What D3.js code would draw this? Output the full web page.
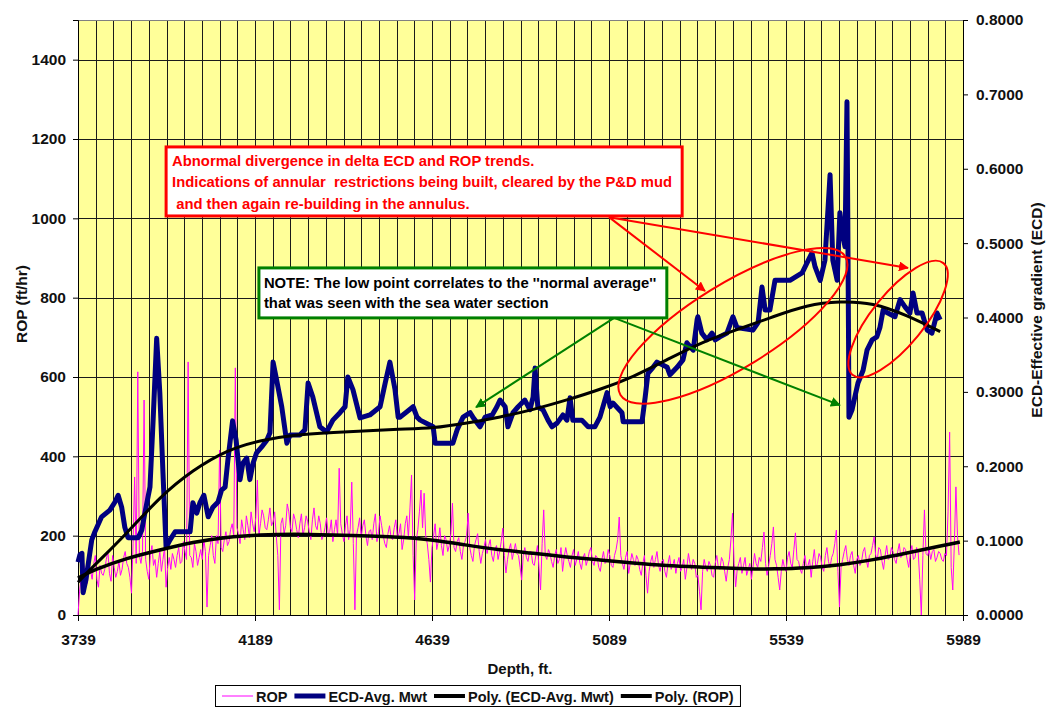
<!DOCTYPE html>
<html><head><meta charset="utf-8">
<script src="https://cdn.jsdelivr.net/npm/d3@7"></script>
<style>body{margin:0;background:#fff;} text{font-family:Arial,"Liberation Sans",sans-serif;}</style>
</head><body><svg id="c" width="1047" height="708"></svg>
<script>
// ---------- data ----------
const depthTicks = [3739, 4189, 4639, 5089, 5539, 5989];
const ropTicks = [0, 200, 400, 600, 800, 1000, 1200, 1400];
const ecdTicks = [0, 0.1, 0.2, 0.3, 0.4, 0.5, 0.6, 0.7, 0.8];

// ROP (ft/hr), one reading every 4 ft starting at 3739 ft
const ropStart = 3739, ropStep = 4;
const ropValues = [
  0,60,95,140,120,100,80,135,110,90,130,150,90,70,125,105,100,115,140,160,
  105,85,150,120,95,110,135,100,115,145,160,130,120,95,55,180,348,130,613,150,
  130,160,542,140,110,90,150,175,125,140,95,130,160,110,140,170,70,120,145,115,
  155,140,120,150,170,130,135,185,160,140,638,150,145,120,180,160,125,145,165,140,
  190,160,20,150,175,200,150,130,200,180,416,170,160,190,210,175,185,215,230,200,
  623,220,205,180,240,215,190,250,225,195,260,230,210,245,340,200,230,265,250,220,
  215,240,270,225,235,260,200,150,13,230,245,205,225,280,260,220,210,255,240,215,
  195,230,255,200,220,250,235,210,190,240,270,225,215,250,230,190,200,220,245,205,
  210,240,185,215,240,200,370,230,205,185,225,250,190,215,335,180,13,200,220,245,
  195,225,240,200,175,210,215,190,230,255,185,210,250,225,200,180,170,205,225,195,
  190,220,240,195,205,230,165,190,230,250,195,270,353,150,38,190,215,260,315,220,
  307,200,180,140,83,170,200,230,165,185,220,175,150,200,190,160,175,205,282,170,
  160,185,195,160,140,175,185,200,257,170,150,135,175,190,205,160,130,155,170,190,
  155,175,190,150,135,165,175,140,160,185,219,150,106,140,165,180,140,160,180,155,
  150,120,88,150,170,145,135,160,160,130,125,150,175,120,63,180,265,150,140,165,
  155,135,120,150,165,130,140,170,110,145,170,150,135,120,150,165,125,140,160,130,
  115,145,155,125,140,160,170,135,125,150,145,120,110,140,160,130,135,165,150,125,
  120,150,165,190,247,150,130,115,145,160,105,130,155,140,125,150,140,115,100,130,
  150,100,55,110,135,150,120,140,160,125,110,135,140,110,95,130,150,115,125,140,
  105,130,145,110,120,140,90,120,155,130,115,140,130,95,100,60,13,110,140,120,
  110,135,125,100,95,130,150,120,115,145,135,110,85,120,140,190,257,130,71,115,
  130,145,105,125,145,100,115,130,90,120,155,130,120,145,135,170,209,130,100,125,
  150,180,222,140,125,95,63,110,140,120,110,145,160,130,120,165,207,140,135,115,
  105,130,150,120,125,140,95,135,165,120,130,155,145,120,110,150,170,135,120,145,
  155,180,214,110,20,120,140,160,175,140,125,150,160,125,105,140,150,125,135,160,
  170,140,120,150,155,175,197,150,140,170,165,135,115,150,175,140,145,170,160,140,
  130,160,180,145,150,170,165,140,120,155,175,140,145,170,160,90,0,150,265,155,
  150,165,140,160,165,135,145,160,155,140,135,155,150,260,461,120,63,180,323,200,151
];

// ECD-Avg. Mwt (right axis)
const ecdDepth = [3739,3744,3749,3752,3759,3774,3782,3799,3820,3833,3841,3850,3858,3866,3892,3901,3909,3922,3930,3939,3947,3955,3963,3973,3986,4024,4031,4041,4049,4059,4070,4082,4095,4104,4113,4120,4132,4141,4151,4158,4168,4176,4184,4193,4206,4219,4227,4235,4244,4257,4270,4278,4303,4316,4324,4336,4354,4371,4387,4405,4418,4425,4438,4456,4481,4507,4520,4532,4545,4553,4558,4591,4601,4609,4642,4647,4692,4703,4718,4736,4743,4761,4774,4792,4804,4812,4825,4832,4845,4858,4875,4888,4896,4901,4908,4921,4934,4944,4957,4972,4982,4990,4997,5020,5036,5053,5066,5084,5092,5099,5122,5125,5173,5181,5188,5201,5211,5237,5244,5262,5277,5287,5303,5313,5315,5325,5338,5351,5359,5371,5389,5404,5414,5422,5455,5468,5478,5486,5498,5511,5549,5580,5605,5613,5626,5638,5651,5658,5669,5676,5681,5689,5694,5696,5698,5699,5707,5714,5722,5735,5745,5758,5770,5778,5786,5798,5816,5829,5842,5854,5862,5872,5885,5898,5910,5923,5931];
const ecdValues = [0.071,0.081,0.083,0.030,0.047,0.101,0.112,0.132,0.141,0.152,0.161,0.145,0.118,0.104,0.104,0.114,0.137,0.172,0.262,0.372,0.299,0.191,0.091,0.101,0.112,0.112,0.151,0.137,0.151,0.161,0.132,0.145,0.152,0.168,0.172,0.208,0.261,0.235,0.182,0.204,0.211,0.182,0.204,0.218,0.226,0.235,0.245,0.340,0.316,0.280,0.231,0.242,0.242,0.249,0.312,0.293,0.253,0.246,0.262,0.272,0.280,0.320,0.303,0.265,0.269,0.280,0.312,0.340,0.303,0.266,0.266,0.280,0.266,0.262,0.253,0.231,0.231,0.249,0.266,0.272,0.266,0.253,0.266,0.269,0.280,0.289,0.280,0.253,0.272,0.280,0.289,0.276,0.293,0.332,0.280,0.276,0.262,0.253,0.258,0.269,0.262,0.292,0.262,0.262,0.253,0.253,0.266,0.299,0.280,0.285,0.272,0.260,0.260,0.293,0.325,0.333,0.340,0.333,0.323,0.333,0.343,0.366,0.356,0.397,0.401,0.379,0.370,0.379,0.370,0.374,0.379,0.401,0.387,0.386,0.383,0.393,0.441,0.410,0.410,0.450,0.450,0.460,0.487,0.468,0.450,0.477,0.592,0.477,0.450,0.541,0.518,0.495,0.690,0.541,0.370,0.266,0.276,0.293,0.312,0.329,0.356,0.370,0.374,0.387,0.410,0.406,0.401,0.424,0.414,0.406,0.433,0.406,0.406,0.383,0.379,0.406,0.397];

// Poly. (ECD-Avg. Mwt) trend
const ecdTrendDepth = [3739,3777,3864,3947,4031,4118,4202,4286,4372,4558,4642,4728,4812,4896,4982,5066,5150,5236,5320,5422,5506,5592,5676,5760,5847,5931];
const ecdTrendValues = [0.044,0.065,0.110,0.159,0.195,0.222,0.235,0.242,0.245,0.250,0.251,0.258,0.266,0.276,0.289,0.303,0.320,0.343,0.366,0.385,0.401,0.417,0.422,0.420,0.403,0.381];

// Poly. (ROP) trend
const ropTrendDepth = [3739,3777,3864,3947,4031,4118,4202,4286,4372,4558,4642,4728,4812,4896,4982,5066,5150,5236,5320,5447,5506,5592,5676,5760,5847,5931,5981];
const ropTrendValues = [93,113,144,164,184,197,202,204,202,197,189,176,164,156,146,139,131,124,121,116,116,118,126,139,156,174,184];

// ---------- chart ----------
const svg = d3.select('#c');
const L = 78, R = 963, T = 20, B = 615;
const x = d3.scaleLinear().domain([3739, 5989]).range([L, R]);
const yL = d3.scaleLinear().domain([0, 1500]).range([B, T]);
const yR = d3.scaleLinear().domain([0, 0.8]).range([B, T]);

svg.append('rect').attr('x', L).attr('y', T).attr('width', R - L + 1).attr('height', B - T).attr('fill', '#FFFF99');

// grid
svg.append('g').selectAll('line').data(d3.range(3739 + 45, 5989 + 1, 45)).join('line')
  .attr('x1', d => Math.round(x(d)) + 0.5).attr('x2', d => Math.round(x(d)) + 0.5)
  .attr('y1', T).attr('y2', B).attr('stroke', '#1a1a1a').attr('stroke-width', 1);
svg.append('g').selectAll('line').data(ropTicks.filter(d => d > 0)).join('line')
  .attr('x1', L).attr('x2', R + 1).attr('y1', d => Math.round(yL(d)) + 0.5).attr('y2', d => Math.round(yL(d)) + 0.5)
  .attr('stroke', '#1a1a1a').attr('stroke-width', 1);
svg.append('rect').attr('x', L + 0.5).attr('y', T + 0.5).attr('width', R - L).attr('height', B - T)
  .attr('fill', 'none').attr('stroke', '#808080');

// axes
const fontT = 'bold 15.5px Arial';
const ax = (g) => { g.selectAll('text').style('font', fontT).attr('fill', '#111'); g.selectAll('line,path').attr('stroke', '#000'); };
svg.append('g').attr('transform', `translate(${L},0)`)
  .call(d3.axisLeft(yL).tickValues(ropTicks).tickSize(5).tickPadding(7).tickFormat(d3.format('d'))).call(ax);
svg.append('g').attr('transform', `translate(${R},0)`)
  .call(d3.axisRight(yR).tickValues(ecdTicks).tickSize(5).tickPadding(8).tickFormat(d3.format('.4f'))).call(ax);
svg.append('g').attr('transform', `translate(0,${B})`)
  .call(d3.axisBottom(x).tickValues(depthTicks).tickSize(6).tickPadding(13).tickFormat(d3.format('d'))).call(ax);

// series
const ropData = ropValues.map((v, i) => [ropStart + i * ropStep, v]);
svg.append('path').datum(ropData)
  .attr('d', d3.line().x(d => x(d[0])).y(d => yL(d[1])))
  .attr('fill', 'none').attr('stroke', '#FF00FF').attr('stroke-width', 1);

const ecdData = ecdDepth.map((d, i) => [d, ecdValues[i]]);
svg.append('path').datum(ecdData)
  .attr('d', d3.line().x(d => x(d[0])).y(d => yR(d[1])))
  .attr('fill', 'none').attr('stroke', '#000080').attr('stroke-width', 5).attr('stroke-linejoin', 'round');

const ecdTrend = ecdTrendDepth.map((d, i) => [d, ecdTrendValues[i]]);
svg.append('path').datum(ecdTrend)
  .attr('d', d3.line().curve(d3.curveBasis).x(d => x(d[0])).y(d => yR(d[1])))
  .attr('fill', 'none').attr('stroke', '#000').attr('stroke-width', 3);

const ropTrend = ropTrendDepth.map((d, i) => [d, ropTrendValues[i]]);
svg.append('path').datum(ropTrend)
  .attr('d', d3.line().curve(d3.curveBasis).x(d => x(d[0])).y(d => yL(d[1])))
  .attr('fill', 'none').attr('stroke', '#000').attr('stroke-width', 3.5);

// annotations (positions in data units)
const defs = svg.append('defs');
[['ar', '#FF0000'], ['ag', '#008000']].forEach(([id, c]) => {
  defs.append('marker').attr('id', id).attr('viewBox', '0 0 10 10').attr('refX', 9).attr('refY', 5)
    .attr('markerWidth', 5).attr('markerHeight', 5).attr('orient', 'auto')
    .append('path').attr('d', 'M0,0 L10,5 L0,10 z').attr('fill', c);
});
function arrow(a, b, color, id) {
  svg.append('line').attr('x1', x(a[0])).attr('y1', yL(a[1])).attr('x2', x(b[0])).attr('y2', yL(b[1]))
    .attr('stroke', color).attr('stroke-width', 2).attr('marker-end', `url(#${id})`);
}
function ellipse(c, rx, ry, rot) {
  svg.append('ellipse').attr('cx', 0).attr('cy', 0).attr('rx', rx).attr('ry', ry)
    .attr('transform', `translate(${x(c[0])},${yL(c[1])}) rotate(${rot})`)
    .attr('fill', 'none').attr('stroke', '#FF0000').attr('stroke-width', 2);
}
ellipse([5404, 729], 132, 42, -31.6);
ellipse([5824, 746], 72, 26, -51);
arrow([5089, 1003], [5333, 817], '#FF0000', 'ar');
arrow([5089, 1003], [5849, 875], '#FF0000', 'ar');
arrow([5102, 749], [4751, 524], '#008000', 'ag');
arrow([5102, 749], [5676, 529], '#008000', 'ag');

function box(x0, x1, v0, v1, stroke, lines, color, tx, baseline0, lh) {
  svg.append('rect').attr('x', x(x0)).attr('y', yL(v0)).attr('width', x(x1) - x(x0)).attr('height', yL(v1) - yL(v0))
    .attr('fill', '#fff').attr('stroke', stroke).attr('stroke-width', 3);
  const t = svg.append('text').attr('fill', color).style('font', 'bold 14.8px Arial');
  lines.forEach((s, i) => t.append('tspan').attr('x', x(x0) + tx).attr('y', yL(v0) + baseline0 + i * lh).attr('xml:space', 'preserve').text(s));
}
box(3963, 5275, 1180, 1006, '#FF0000',
  ['Abnormal divergence in delta ECD and ROP trends.',
   'Indications of annular  restrictions being built, cleared by the P&D mud',
   '\u00a0and then again re-building in the annulus.'], '#FF0000', 6, 19, 21.5);
box(4199, 5236, 875, 749, '#008000',
  ['NOTE: The low point correlates to the \'\'normal average\'\'',
   'that was seen with the sea water section'], '#000', 5, 20, 20.5);

// axis titles
svg.append('text').attr('transform', 'translate(27,304) rotate(-90)').attr('text-anchor', 'middle')
  .style('font', 'bold 15.5px Arial').attr('fill', '#111').text('ROP (ft/hr)');
svg.append('text').attr('transform', 'translate(1042,310) rotate(-90)').attr('text-anchor', 'middle')
  .style('font', 'bold 15.5px Arial').attr('fill', '#111').text('ECD-Effective gradient (ECD)');
svg.append('text').attr('x', 520).attr('y', 674).attr('text-anchor', 'middle')
  .style('font', 'bold 15px Arial').attr('fill', '#111').text('Depth, ft.');

// legend
const legendItems = [
  { label: 'ROP', color: '#FF00FF', w: 1 },
  { label: 'ECD-Avg. Mwt', color: '#000080', w: 5 },
  { label: 'Poly. (ECD-Avg. Mwt)', color: '#000', w: 4 },
  { label: 'Poly. (ROP)', color: '#000', w: 4 }
];
const lg = svg.append('g');
const lgRect = lg.append('rect').attr('x', 215.5).attr('y', 685.5).attr('height', 21).attr('fill', '#fff').attr('stroke', '#000');
let cx = 222;
legendItems.forEach(it => {
  lg.append('line').attr('x1', cx).attr('x2', cx + 31).attr('y1', 696).attr('y2', 696).attr('stroke', it.color).attr('stroke-width', it.w);
  const t = lg.append('text').attr('x', cx + 34).attr('y', 701.5).style('font', 'bold 14.5px Arial').attr('fill', '#111').text(it.label);
  cx += 34 + t.node().getComputedTextLength() + 7;
});
lgRect.attr('width', cx - 215.5);
</script></body></html>
